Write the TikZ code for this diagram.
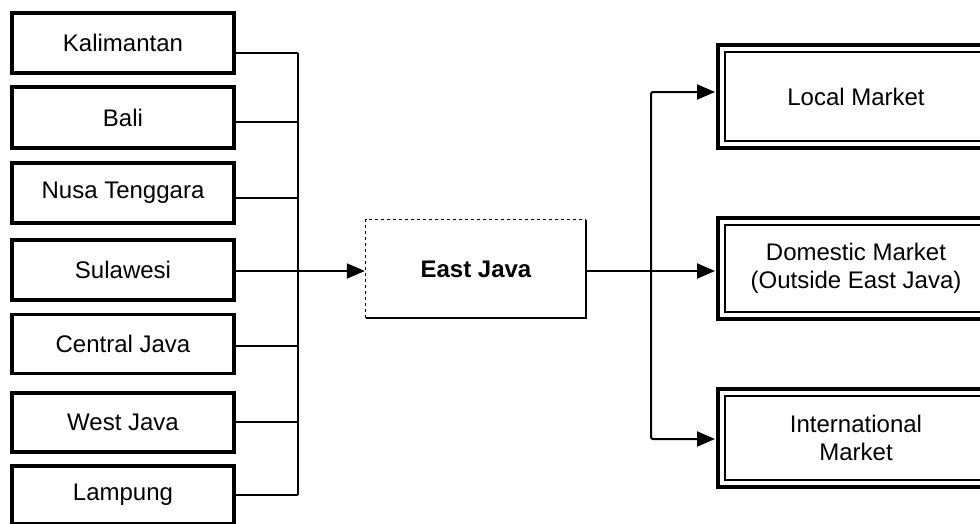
\documentclass[tikz,border=0pt]{standalone}
\usepackage{fontspec}
\setmainfont{Liberation Sans}
\usetikzlibrary{arrows.meta}
\begin{document}
\begin{tikzpicture}[x=1pt,y=-1pt,
  txt/.style={font=\fontsize{24}{28}\selectfont, align=center},
  leftbox/.style={txt, draw, line width=3.2pt, minimum width=222pt, inner sep=0pt},
  rightbox/.style={txt, draw, line width=4pt, minimum width=276pt, inner sep=0pt},
  innerline/.style={line width=1.6pt},
  conn/.style={line width=2pt},
  arr/.style={conn, -{Triangle[length=18pt,width=15pt]}, shorten >=1pt}
]
\useasboundingbox (0,0) rectangle (980,523);
\fill[white] (0,0) rectangle (980,523);
\clip (0,0) rectangle (980,523);

% left boxes
\node[leftbox, minimum height=60pt] (kal) at (123,43) {Kalimantan};
\node[leftbox, minimum height=61pt] (bal) at (123,117.5) {Bali};
\node[leftbox, minimum height=60pt] (nus) at (123,193) {Nusa Tenggara};
\node[leftbox, minimum height=60pt] (sul) at (123,270) {Sulawesi};
\node[leftbox, minimum height=59pt] (cen) at (123,344) {Central Java};
\node[leftbox, minimum height=59pt] (wes) at (123,422.5) {West Java};
\node[leftbox, minimum height=58pt] (lam) at (123,495) {Lampung};

% junction points on left bus
\coordinate (j1) at (298,53);
\coordinate (j2) at (298,122);
\coordinate (j3) at (298,198);
\coordinate (j4) at (298,271);
\coordinate (j5) at (298,346);
\coordinate (j6) at (298,422);
\coordinate (j7) at (298,495);

\draw[conn] (kal.east |- j1) -- (j1);
\draw[conn] (bal.east |- j2) -- (j2);
\draw[conn] (nus.east |- j3) -- (j3);
\draw[conn] (cen.east |- j5) -- (j5);
\draw[conn] (wes.east |- j6) -- (j6);
\draw[conn] (lam.east |- j7) -- (j7);
\draw[conn] (j1) -- (j7);

% East Java
\node[txt, font=\fontsize{24}{28}\selectfont\bfseries, minimum width=220pt, minimum height=98pt, inner sep=0pt] (ej) at (476,269) {East Java};
\draw[line width=1.2pt, dash pattern=on 3pt off 3pt] (ej.south west) -- (ej.north west) -- (ej.north east);
\draw[line width=2.4pt] (ej.north east) -- (ej.south east) -- (ej.south west);

\draw[arr] (sul.east |- j4) -- (ej.west |- j4);

% right boxes
\node[rightbox, minimum height=103pt] (loc) at (856,96.5) {Local Market};
\node[rightbox, minimum height=101pt] (dom) at (856,268.5) {Domestic Market\\(Outside East Java)};
\node[rightbox, minimum height=98pt] (int) at (856,438) {International\\Market};
\foreach \b in {loc,dom,int}{
  \draw[innerline] ([xshift=9pt,yshift=-9pt]\b.north west) rectangle ([xshift=-9pt,yshift=9pt]\b.south east);
}

% right bus
\coordinate (r1) at (651,92);
\coordinate (r2) at (651,271);
\coordinate (r3) at (651,439);
\draw[conn] (ej.east |- r2) -- (r2);
\draw[arr, rounded corners=2pt] (r2) -- (r1) -- (loc.west |- r1);
\draw[arr] (r2) -- (dom.west |- r2);
\draw[arr, rounded corners=2pt] (r2) -- (r3) -- (int.west |- r3);
\end{tikzpicture}
\end{document}
